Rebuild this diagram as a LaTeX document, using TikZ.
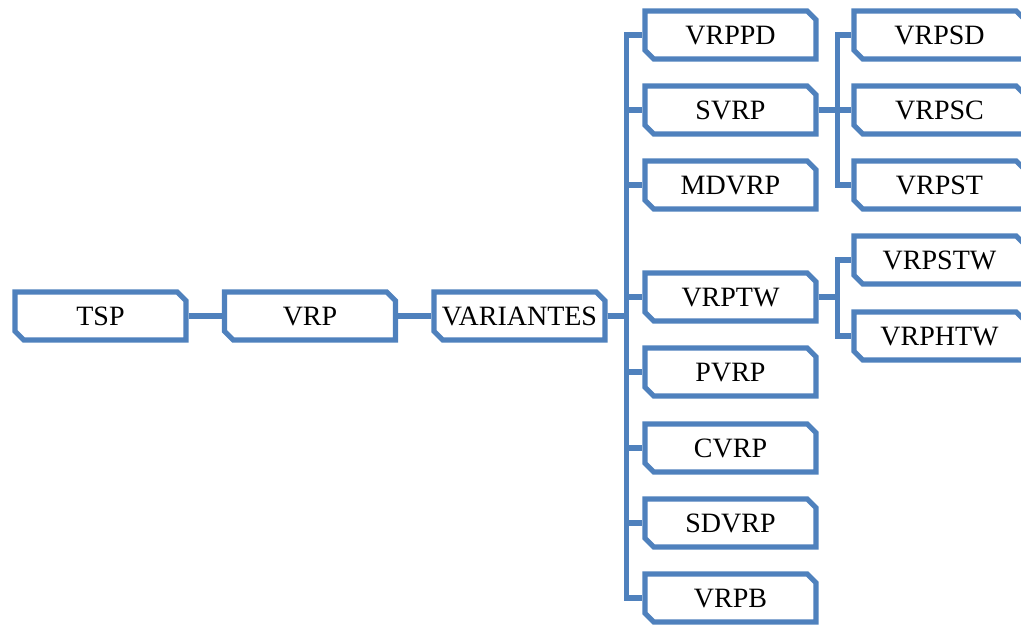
\documentclass[tikz,border=0pt]{standalone}
\usepackage{fontspec}
\setmainfont{Liberation Serif}
\usetikzlibrary{shapes.misc}

\definecolor{boxblue}{RGB}{79,129,189}

\tikzset{
  box/.style={chamfered rectangle, chamfered rectangle corners={north east,south west},
    chamfered rectangle xsep=2.2pt, chamfered rectangle ysep=2.2pt,
    draw=boxblue, line width=2.6pt, fill=white,
    minimum width=85.5pt, minimum height=24pt, inner sep=0pt,
    text height=9.3pt, text depth=0pt, font=\fontsize{14}{16}\selectfont},
  link/.style={draw=boxblue, line width=2.6pt}
}

\begin{document}
\begin{tikzpicture}[x=0.5pt,y=-0.5pt]
    \useasboundingbox (0,0) rectangle (1021,626);

    % Main chain
    \node[box] (tsp) at (100.5,316) {TSP};
    \node[box] (vrp) at (310,316) {VRP};
    \node[box] (variantes) at (519.5,316) {VARIANTES};

    % Variants
    \node[box] (vrppd) at (730.5,35) {VRPPD};
    \node[box] (svrp) at (730.5,110) {SVRP};
    \node[box] (mdvrp) at (730.5,185) {MDVRP};
    \node[box] (vrptw) at (730.5,297) {VRPTW};
    \node[box] (pvrp) at (730.5,372) {PVRP};
    \node[box] (cvrp) at (730.5,448) {CVRP};
    \node[box] (sdvrp) at (730.5,523) {SDVRP};
    \node[box] (vrpb) at (730.5,598) {VRPB};

    % Stochastic VRP
    \node[box] (vrpsd) at (939.5,35) {VRPSD};
    \node[box] (vrpsc) at (939.5,110) {VRPSC};
    \node[box] (vrpst) at (939.5,185) {VRPST};

    % Time windows
    \node[box] (vrpstw) at (939.5,260) {VRPSTW};
    \node[box] (vrphtw) at (939.5,336) {VRPHTW};

    % Connectors
    \draw[link] (tsp.east) -- (vrp.west);
    \draw[link] (vrp.east) -- (variantes.west);
    \foreach \c in {vrppd,svrp,mdvrp,vrptw,pvrp,cvrp,sdvrp,vrpb}
        \draw[link] (variantes.east) -- ++(19,0) |- (\c.west);
    \foreach \c in {vrpsd,vrpsc,vrpst}
        \draw[link] (svrp.east) -- ++(19,0) |- (\c.west);
    \foreach \c in {vrpstw,vrphtw}
        \draw[link] (vrptw.east) -- ++(19,0) |- (\c.west);
\end{tikzpicture}
\end{document}
